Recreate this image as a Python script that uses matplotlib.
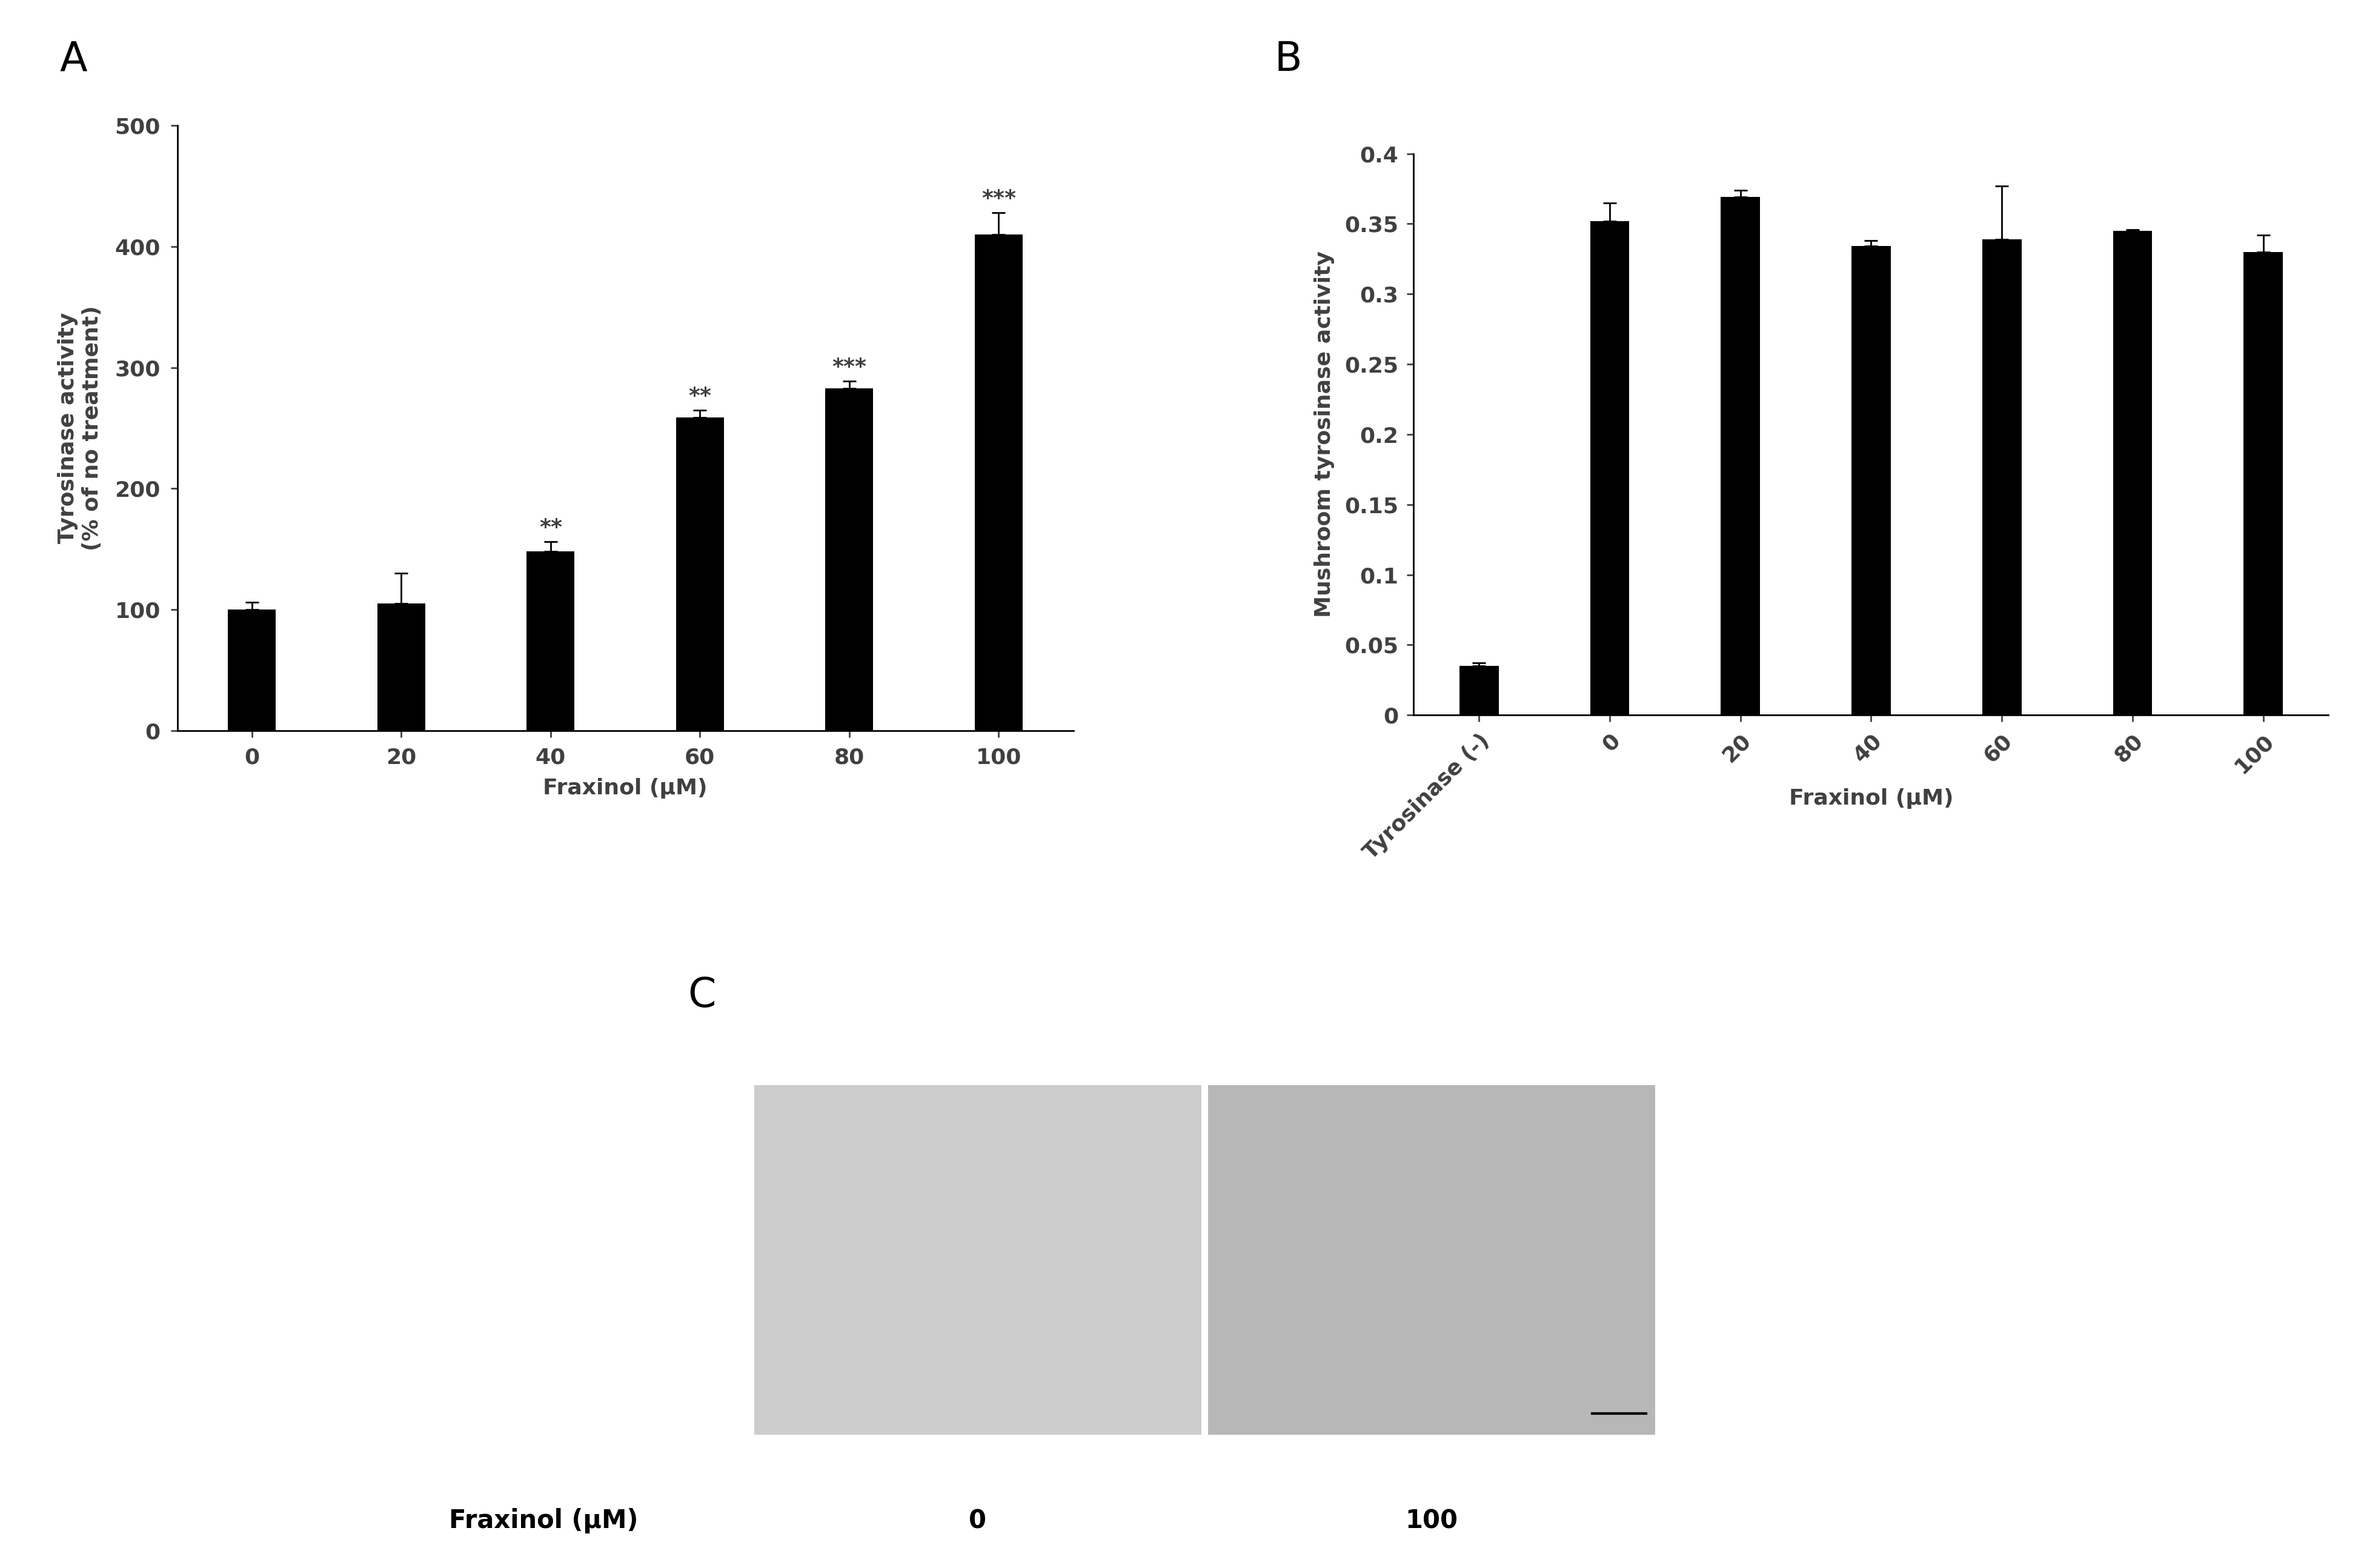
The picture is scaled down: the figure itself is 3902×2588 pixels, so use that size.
import matplotlib
matplotlib.use("Agg")
import matplotlib.pyplot as plt
import numpy as np

plt.rcParams['font.family'] = ['DejaVu Sans']

a_cats = ["0", "20", "40", "60", "80", "100"]
a_vals = [100, 105, 148, 259, 283, 410]
a_err = [6, 25, 8, 6, 6, 18]
a_stars = ["", "", "**", "**", "***", "***"]

b_cats = ["Tyrosinase (-)", "0", "20", "40", "60", "80", "100"]
b_vals = [0.035, 0.352, 0.369, 0.334, 0.339, 0.345, 0.330]
b_err = [0.002, 0.013, 0.005, 0.004, 0.038, 0.001, 0.012]

c_labels = ["0", "100"]
c_gray = [0.80, 0.72]

fig = plt.figure(figsize=(39.02, 25.88), dpi=100)
tc = '#404040'
fs = 26

# Panel A
ax = fig.add_axes([0.075, 0.534, 0.379, 0.386])
x = np.arange(len(a_cats))
ax.bar(x, a_vals, width=0.32, color='black')
ax.errorbar(x, a_vals, yerr=[np.zeros(len(a_err)), a_err], fmt='none', ecolor='black', capsize=8, elinewidth=2, capthick=2)
for xi, v, e, s in zip(x, a_vals, a_err, a_stars):
    if s:
        ax.text(xi, v + e + 3, s, ha='center', va='bottom', fontsize=fs, fontweight='bold', color=tc)
ax.set_xlim(-0.5, 5.5)
ax.set_ylim(0, 500)
ax.set_yticks(range(0, 501, 100))
ax.set_xticks(x)
ax.set_xticklabels(a_cats)
ax.set_xlabel("Fraxinol (μM)", fontsize=fs, fontweight='bold', color=tc, labelpad=12)
ax.set_ylabel("Tyrosinase activity\n(% of no treatment)", fontsize=fs, fontweight='bold', color=tc, labelpad=15)
ax.spines[['top', 'right']].set_visible(False)
for sp in ['left', 'bottom']:
    ax.spines[sp].set_linewidth(2)
ax.tick_params(labelsize=fs, colors=tc, width=2, length=8, pad=12)
for t in ax.get_xticklabels() + ax.get_yticklabels():
    t.set_fontweight('bold')

# Panel B
bx = fig.add_axes([0.598, 0.544, 0.387, 0.358])
xb = np.arange(len(b_cats))
bx.bar(xb, b_vals, width=0.3, color='black')
bx.errorbar(xb, b_vals, yerr=[np.zeros(len(b_err)), b_err], fmt='none', ecolor='black', capsize=8, elinewidth=2, capthick=2)
bx.set_xlim(-0.5, 6.5)
bx.set_ylim(0, 0.4)
yt = np.arange(0, 0.401, 0.05)
bx.set_yticks(yt)
bx.set_yticklabels(["0", "0.05", "0.1", "0.15", "0.2", "0.25", "0.3", "0.35", "0.4"])
bx.set_xticks(xb)
bx.set_xticklabels(b_cats, rotation=45, ha='right', rotation_mode='anchor')
bx.set_ylabel("Mushroom tyrosinase activity", fontsize=fs, fontweight='bold', color=tc, labelpad=12)
bx.text(0.5, -0.16, "Fraxinol (μM)", transform=bx.transAxes, ha='center', fontsize=fs, fontweight='bold', color=tc)
bx.spines[['top', 'right']].set_visible(False)
for sp in ['left', 'bottom']:
    bx.spines[sp].set_linewidth(2)
bx.tick_params(labelsize=fs, colors=tc, width=2, length=8, pad=10)
for t in bx.get_xticklabels() + bx.get_yticklabels():
    t.set_fontweight('bold')

# Panel C (placeholder images)
for i, (lbl, g) in enumerate(zip(c_labels, c_gray)):
    ix = fig.add_axes([0.319 + i * 0.192, 0.085, 0.189, 0.223])
    ix.imshow(np.full((10, 10, 3), g), aspect='auto', extent=(0, 10, 10, 0))
    if i == 1:
        ix.plot([8.6, 9.8], [9.4, 9.4], color='black', lw=3)
    ix.set_xlim(0, 10)
    ix.set_ylim(10, 0)
    ix.set_axis_off()
    fig.text(0.319 + i * 0.192 + 0.0945, 0.030, lbl, ha='center', va='center', fontsize=fs + 4, fontweight='bold')
fig.text(0.23, 0.030, "Fraxinol (μM)", ha='center', va='center', fontsize=fs + 4, fontweight='bold')

fig.text(0.031, 0.962, "A", fontsize=48, ha='center', va='center')
fig.text(0.545, 0.962, "B", fontsize=48, ha='center', va='center')
fig.text(0.297, 0.365, "C", fontsize=48, ha='center', va='center')

fig.savefig("out.png", dpi=100, facecolor='white')
